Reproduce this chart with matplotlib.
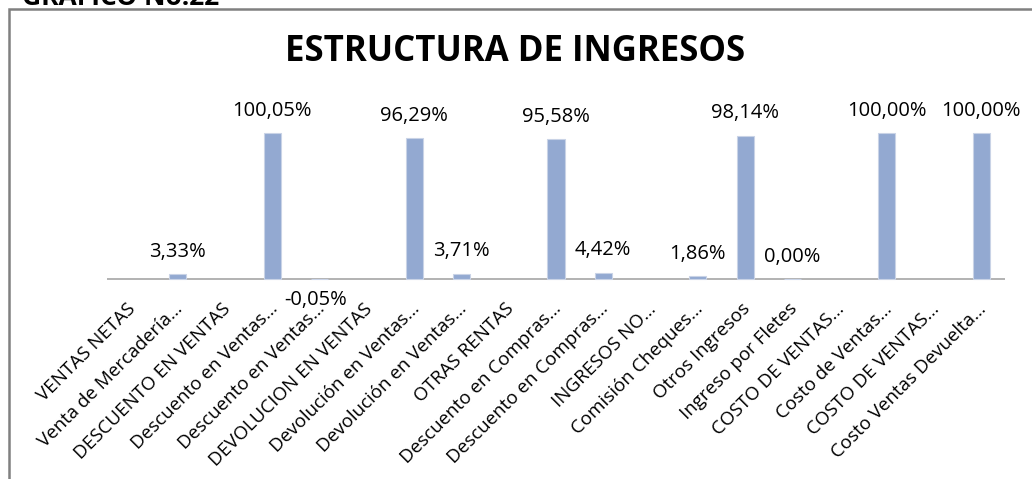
import matplotlib
matplotlib.use("Agg")
import matplotlib.pyplot as plt
from matplotlib.patches import Rectangle
from matplotlib.transforms import ScaledTranslation

categories = [
    "VENTAS NETAS", "Venta de Mercadería…", "DESCUENTO EN VENTAS",
    "Descuento en Ventas…", "Descuento en Ventas…", "DEVOLUCION EN VENTAS",
    "Devolución en Ventas…", "Devolución en Ventas…", "OTRAS RENTAS",
    "Descuento en Compras…", "Descuento en Compras…", "INGRESOS NO…",
    "Comisión Cheques…", "Otros Ingresos", "Ingreso por Fletes",
    "COSTO DE VENTAS…", "Costo de Ventas…", "COSTO DE VENTAS…",
    "Costo Ventas Devuelta…",
]
# None = category without a value (heading rows)
values = [
    None, 3.33, None, 100.05, -0.05, None, 96.29, 3.71, None,
    95.58, 4.42, None, 1.86, 98.14, 0.00, None, 100.00, None, 100.00,
]

plt.rcParams["font.family"] = ["Open Sans", "DejaVu Sans"]

fig = plt.figure(figsize=(10.32, 4.79), dpi=100)
W, H = 1032, 479

# chart frame
fig.patches.append(Rectangle((9 / W, -0.1), 1.2, 1 - 9 / H + 0.1,
                             transform=fig.transFigure, fill=False,
                             edgecolor="#808080", linewidth=1.8))
# heading above the frame, cropped by the top edge as in the source image
fig.text(22 / W, 1 - 5 / H, "GRAFICO No.22", fontsize=19, fontweight="bold",
         ha="left", va="baseline")
fig.text(515 / W, 1 - 52 / H, "ESTRUCTURA DE INGRESOS", fontsize=25,
         fontweight="bold", ha="center", va="center")

# axes placed so that 0 sits at y=279px and 100% spans 146px
ylo, yhi = -20, 125
px_per = 1.46
bottom_px = 279 + (-ylo) * px_per
top_px = 279 - yhi * px_per
ax = fig.add_axes([107 / W, 1 - bottom_px / H, 898 / W, (bottom_px - top_px) / H])
ax.set_xlim(-0.5, len(categories) - 0.5)
ax.set_ylim(ylo, yhi)

xs = [i for i, v in enumerate(values) if v is not None]
vs = [v for v in values if v is not None]
ax.bar(xs, vs, width=0.36, color="#93a9d1", edgecolor="#c9d3e6", linewidth=0.8,
       zorder=3)
ax.axhline(0, color="#a6a6a6", linewidth=1.2, zorder=2)

for x, v in zip(xs, vs):
    txt = f"{v:.2f}%".replace(".", ",")
    if v < 0:
        ax.annotate(txt, (x, v), xytext=(-3, -15), textcoords="offset points",
                    ha="center", va="center", fontsize=14.5, zorder=4)
    else:
        ax.annotate(txt, (x, v), xytext=(0, 16), textcoords="offset points",
                    ha="center", va="center", fontsize=14.5, zorder=4)

ax.set_xticks(range(len(categories)))
ax.set_xticklabels(categories, rotation=45, ha="right", va="top",
                   rotation_mode="anchor", fontsize=13.5)
ax.tick_params(axis="x", length=0, pad=-6)
shift = ScaledTranslation(-4 / 100, 0, fig.dpi_scale_trans)
for lab in ax.get_xticklabels():
    lab.set_transform(lab.get_transform() + shift)
ax.set_yticks([])
for s in ax.spines.values():
    s.set_visible(False)
ax.patch.set_alpha(0)

fig.savefig("out.png", dpi=100)
